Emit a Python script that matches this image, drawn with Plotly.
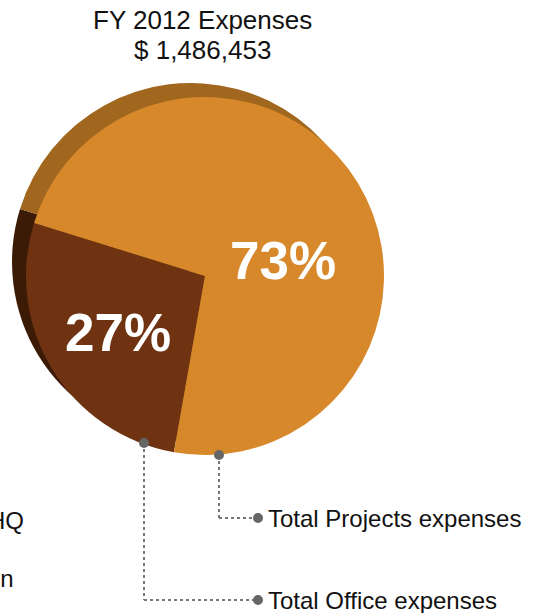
import plotly.graph_objects as go

W, H = 533, 613
OFF = 0  # body margin removed via post_script

# Data
categories = ["Total Office expenses", "Total Projects expenses"]
values = [27, 73]
main_colors = ["#6F3312", "#D6882A"]
shadow_colors = ["#3C1B06", "#A1671F"]
title_lines = ["FY 2012 Expenses", "$ 1,486,453"]
cut_labels = ["HQ", "on"]

FONT = "Liberation Sans, Arial, sans-serif"

def px(x):
    return (x - OFF) / W

def py(y):
    return 1 - (y - OFF) / H

# geometry (target pixels)
cx, cy, r = 205, 276, 179
sdx, sdy = -14, -14
rotation = 190  # first slice (brown) starts here, clockwise

def dom(cx_, cy_, r_):
    return dict(x=[px(cx_ - r_), px(cx_ + r_)], y=[py(cy_ + r_), py(cy_ - r_)])

fig = go.Figure()
fig.add_trace(go.Pie(
    labels=categories, values=values, sort=False, direction="clockwise",
    rotation=rotation, marker=dict(colors=shadow_colors, line=dict(width=0)),
    textinfo="none", hoverinfo="skip", showlegend=False,
    domain=dom(cx + sdx, cy + sdy, r),
))
fig.add_trace(go.Pie(
    labels=categories, values=values, sort=False, direction="clockwise",
    rotation=rotation, marker=dict(colors=main_colors, line=dict(width=0)),
    textinfo="none", hoverinfo="skip", showlegend=False,
    domain=dom(cx, cy, r),
))

total = sum(values)
pct = [f"<b>{round(v / total * 100)}%</b>" for v in values]

annotations = []
# percent labels
label_pos = [(118, 332), (283, 260)]
for t, (lx, ly) in zip(pct, label_pos):
    annotations.append(dict(x=px(lx), y=py(ly), xref="paper", yref="paper", text=t,
                            showarrow=False, font=dict(family=FONT, size=53, color="white"),
                            xanchor="center", yanchor="middle"))
# title
for t, ty in zip(title_lines, [20, 50]):
    annotations.append(dict(x=px(202), y=py(ty), xref="paper", yref="paper",
                            text=t, showarrow=False,
                            font=dict(family=FONT, size=26, color="#111"),
                            xanchor="center", yanchor="middle"))

# leader lines
leaders = [  # (edge point, elbow y, label)
    ((144, 443), 600, categories[0]),
    ((219, 455), 518, categories[1]),
]
shapes = []
for (ex, ey), ly, lab in leaders:
    shapes.append(dict(type="line", xref="paper", yref="paper", x0=px(ex), y0=py(ey), x1=px(ex), y1=py(ly),
                       line=dict(color="#777", width=2, dash="dot")))
    shapes.append(dict(type="line", xref="paper", yref="paper", x0=px(ex), y0=py(ly), x1=px(258), y1=py(ly),
                       line=dict(color="#777", width=2, dash="dot")))
    for (dx, dy) in [(ex, ey), (258, ly)]:
        shapes.append(dict(type="circle", xref="paper", yref="paper",
                           x0=px(dx - 5), x1=px(dx + 5), y0=py(dy + 5), y1=py(dy - 5),
                           fillcolor="#666", line=dict(width=0)))
    annotations.append(dict(x=px(266), y=py(ly), xref="paper", yref="paper", text=lab,
                            showarrow=False, font=dict(family=FONT, size=24, color="#111"),
                            xanchor="left", yanchor="middle"))

# cut-off labels at left edge (text continues beyond the picture, as in the source)
for t, (lx, ly) in zip(cut_labels, [(26, 520), (16, 578)]):
    annotations.append(dict(x=px(lx), y=py(ly), xref="paper", yref="paper", text=t,
                            showarrow=False, font=dict(family=FONT, size=24, color="#111"),
                            xanchor="right", yanchor="middle"))

fig.update_layout(
    width=W, height=H, margin=dict(l=0, r=0, t=0, b=0),
    paper_bgcolor="white", plot_bgcolor="white",
    annotations=annotations, shapes=shapes,
)
fig.write_html("out.html", config={"displayModeBar": False},
               post_script="document.body.style.margin='0px';document.body.style.overflow='hidden';")
